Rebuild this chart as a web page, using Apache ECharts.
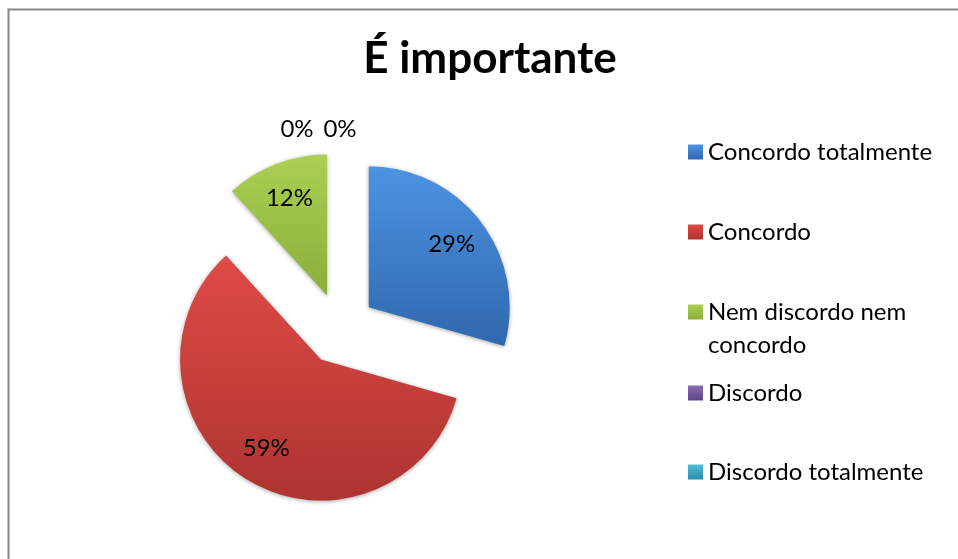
<!DOCTYPE html>
<html>
<head>
<meta charset="utf-8">
<script src="https://cdn.jsdelivr.net/npm/echarts@6/dist/echarts.min.js"></script>
<style>html,body{margin:0;padding:0;background:#fff}#c{width:958px;height:559px}</style>
</head>
<body>
<div id="c"></div>
<script>
const titleText = 'É importante';
const categories = ['Concordo totalmente', 'Concordo', 'Nem discordo nem concordo', 'Discordo', 'Discordo totalmente'];
const values = [5, 10, 2, 0, 0];

const FONT = 'Lato';
const grads = [
  ['#4d93e3', '#2f68ad'],
  ['#e04a46', '#ad3430'],
  ['#abd054', '#8aae3a'],
  ['#8d6bb8', '#5e4585'],
  ['#4fc0dc', '#2f8ba5']
];
function grad(i) {
  return {type: 'linear', x: 0, y: 0, x2: 0, y2: 1,
    colorStops: [{offset: 0, color: grads[i][0]}, {offset: 1, color: grads[i][1]}]};
}
const zeroOffsets = {3: [-43, -60], 4: [0, -60]};

const mainData = categories.map((n, i) => ({
  name: n, value: values[i], selected: true,
  itemStyle: {color: grad(i)}
}));
const labelData = categories.map((n, i) => ({
  name: n, value: values[i], selected: true
}));

const wrapped = {'Nem discordo nem concordo': ' \nNem discordo nem\nconcordo'};
const legendCenters = [152, 232, 312, 393, 472];
const legends = categories.map((n, i) => ({
  data: [n],
  left: 688,
  top: legendCenters[i] - (wrapped[n] ? 49.5 : 16.5),
  padding: 0,
  orient: 'vertical',
  icon: 'rect',
  itemWidth: 15, itemHeight: 15,
  selectedMode: false,
  formatter: (name) => wrapped[name] || name,
  textStyle: {fontFamily: FONT, fontSize: 24, color: '#000', lineHeight: 33}
}));

const chart = echarts.init(document.getElementById('c'), null, {renderer: 'canvas'});
chart.setOption({
  animation: false,
  title: {
    text: titleText, left: 485, top: 32, textAlign: 'center',
    textStyle: {fontFamily: FONT, fontSize: 44, fontWeight: 'bold', color: '#000'}
  },
  legend: legends,
  graphic: [{
    type: 'rect', shape: {x: 8.5, y: 9.5, width: 1000, height: 600},
    style: {fill: 'none', stroke: '#868686', lineWidth: 2}, silent: true
  }],
  series: [
    {
      type: 'pie', center: [340, 329], radius: [0, 141],
      startAngle: 90, clockwise: true,
      selectedMode: 'multiple', selectedOffset: 36,
      label: {show: false}, labelLine: {show: false},
      emphasis: {disabled: true},
      itemStyle: {shadowBlur: 4, shadowColor: 'rgba(0,0,0,0.35)', shadowOffsetY: 1},
      data: mainData
    },
    {
      type: 'pie', center: [340, 329], radius: [0, 202],
      startAngle: 90, clockwise: true,
      selectedMode: 'multiple', selectedOffset: 36,
      silent: true,
      itemStyle: {color: 'rgba(0,0,0,0)'},
      emphasis: {disabled: true},
      label: {
        show: true, position: 'inside',
        formatter: (p) => Math.round(p.percent) + '%',
        fontFamily: FONT, fontSize: 24, color: '#000'
      },
      labelLayout: (p) => {
        const o = zeroOffsets[p.dataIndex];
        return o ? {dx: o[0], dy: o[1], hideOverlap: false} : {hideOverlap: false};
      },
      labelLine: {show: false},
      data: labelData
    }
  ]
});
</script>
</body>
</html>
